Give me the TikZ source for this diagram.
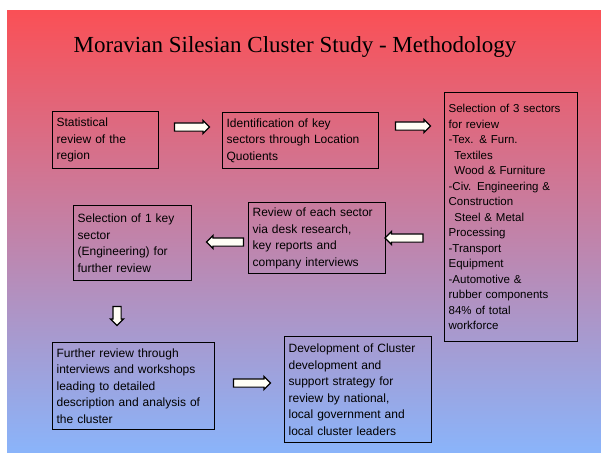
\documentclass[tikz,border=0pt]{standalone}
\usepackage{fontspec}
\setmainfont{Liberation Serif}
\newfontfamily\boxfont{Liberation Sans}
\usetikzlibrary{
  shapes.arrows,
  positioning, calc
}
\definecolor{bgtop}{RGB}{250,80,86}
\definecolor{bgmid}{RGB}{205,140,195}
\definecolor{bgbot}{RGB}{138,180,250}
\tikzset{
  stepnode/.style={rectangle,draw=black,line width=1.3pt,anchor=north west,
    inner sep=4pt,align=left,font=\boxfont\fontsize{12}{16.5}\selectfont},
  blockarr/.style={single arrow,draw=black,line width=1.2pt,fill=yellow!4,
    inner sep=3.5pt,minimum height=35pt,single arrow head extend=2.5pt,
    single arrow head indent=0pt}
}

\begin{document}
\begin{tikzpicture}[x=1pt,y=-1pt]

  % Slide background
  \useasboundingbox (0,0) rectangle (601,452);
  \fill[white] (0,0) rectangle (601,452);
  \shade[top color=bgtop,middle color=bgmid,bottom color=bgbot] (7,11) rectangle (601,452);
  \node[font=\fontsize{23}{28}\selectfont] (title) at (295,47) {Moravian Silesian Cluster Study - Methodology};

  % Top row
  \node[stepnode,text width=98pt,minimum height=57pt] (stat) at (52,111)
    {Statistical\\review of the\\region};
  \node[stepnode,text width=148pt,minimum height=56pt] (ident) at (222,112)
    {Identification of key\\sectors through Location\\Quotients};
  \node[stepnode,text width=125pt,minimum height=249pt,
    font=\boxfont\fontsize{11.5}{15.5}\selectfont] (select) at (444,92)
    {Selection of 3 sectors\\for review\\-Tex. \& Furn.\\\hspace*{0.5em}Textiles\\
     \hspace*{0.5em}Wood \& Furniture\\-Civ. Engineering \&\\Construction\\
     \hspace*{0.5em}Steel \& Metal\\Processing\\-Transport\\Equipment\\
     -Automotive \&\\rubber components\\84\% of total\\workforce};

  % Middle row
  \node[stepnode,text width=129pt,minimum height=71pt] (review) at (248,202)
    {Review of each sector\\via desk research,\\key reports and\\company interviews};
  \node[stepnode,text width=110pt,minimum height=75pt] (keysec) at (73,205)
    {Selection of 1 key\\sector\\(Engineering) for\\further review};

  % Bottom row
  \node[stepnode,text width=154pt,minimum height=87pt] (further) at (52,342)
    {Further review through\\interviews and workshops\\leading to detailed\\
     description and analysis of\\the cluster};
  \node[stepnode,text width=139pt,minimum height=106pt] (develop) at (284,336)
    {Development of Cluster\\development and\\support strategy for\\
     review by national,\\local government and\\local cluster leaders};

  % Block arrows
  \node[blockarr] (stat2ident) at (190,127) {};
  \node[blockarr] (ident2select) at (411,126) {};
  \node[blockarr,minimum height=38pt,shape border rotate=180] (select2review) at (406,238) {};
  \node[blockarr,minimum height=37pt,shape border rotate=180] (review2keysec) at (227,242) {};
  \node[blockarr,minimum height=19pt,shape border rotate=270] (keysec2further) at (117,314) {};
  \node[blockarr,minimum height=37pt] (further2develop) at (250,383) {};

\end{tikzpicture}
\end{document}
